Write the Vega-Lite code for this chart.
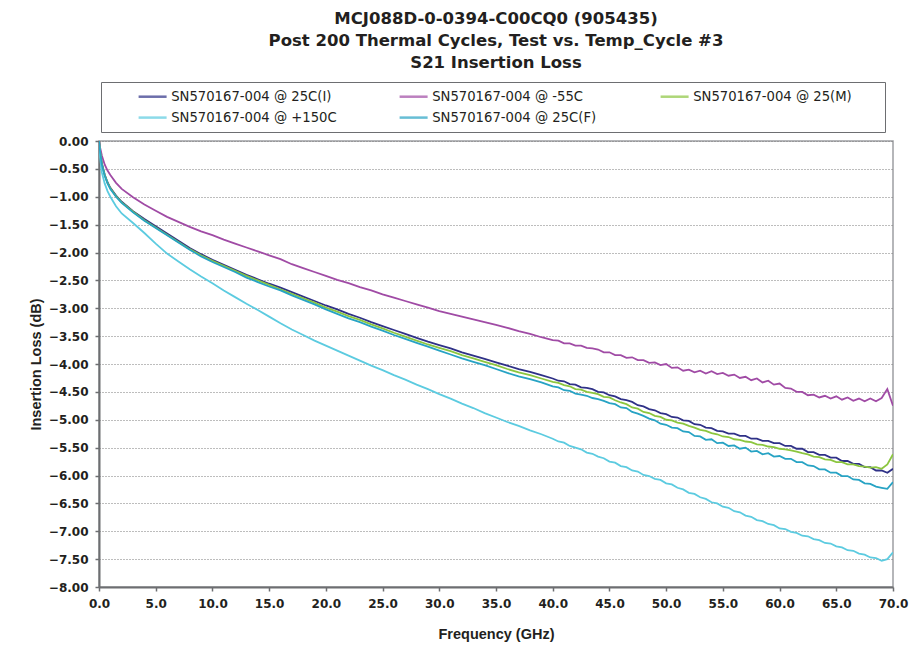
{
"$schema": "https://vega.github.io/schema/vega-lite/v6.json",
"width": 794, "height": 446,
"autosize": {"type": "none"},
"padding": {"left": 99, "top": 141, "right": 19, "bottom": 60},
"background": "white",
"title": {"text": ["MCJ088D-0-0394-C00CQ0 (905435)", "Post 200 Thermal Cycles, Test vs. Temp_Cycle #3", "S21 Insertion Loss"], "font": "DejaVu Sans", "fontSize": 16.5, "fontWeight": "bold", "color": "#231f20", "lineHeight": 22, "anchor": "middle", "offset": 10},
"datasets": {
"names": [
{"k": "a", "name": "SN570167-004 @ 25C(I)"},
{"k": "b", "name": "SN570167-004 @ -55C"},
{"k": "c", "name": "SN570167-004 @ 25(M)"},
{"k": "d", "name": "SN570167-004 @ +150C"},
{"k": "e", "name": "SN570167-004 @ 25C(F)"}
],
"curves": [
{"f":0,"a":0,"b":0,"c":0,"d":0,"e":0},
{"f":0.1,"a":-0.18,"b":-0.12,"c":-0.19,"d":-0.30,"e":-0.19},
{"f":0.25,"a":-0.40,"b":-0.26,"c":-0.41,"d":-0.56,"e":-0.42},
{"f":0.5,"a":-0.60,"b":-0.42,"c":-0.61,"d":-0.76,"e":-0.62},
{"f":0.75,"a":-0.74,"b":-0.53,"c":-0.75,"d":-0.90,"e":-0.76},
{"f":1,"a":-0.84,"b":-0.61,"c":-0.85,"d":-1.00,"e":-0.86},
{"f":1.5,"a":-0.98,"b":-0.75,"c":-0.99,"d":-1.17,"e":-1.00},
{"f":2,"a":-1.09,"b":-0.86,"c":-1.10,"d":-1.30,"e":-1.11},
{"f":3,"a":-1.26,"b":-1.01,"c":-1.27,"d":-1.47,"e":-1.28},
{"f":4,"a":-1.40,"b":-1.14,"c":-1.42,"d":-1.65,"e":-1.43},
{"f":5,"a":-1.53,"b":-1.25,"c":-1.55,"d":-1.84,"e":-1.56},
{"f":6,"a":-1.66,"b":-1.36,"c":-1.68,"d":-2.02,"e":-1.69},
{"f":7,"a":-1.79,"b":-1.45,"c":-1.81,"d":-2.16,"e":-1.82},
{"f":8,"a":-1.92,"b":-1.54,"c":-1.94,"d":-2.30,"e":-1.95},
{"f":9,"a":-2.03,"b":-1.62,"c":-2.05,"d":-2.43,"e":-2.07},
{"f":10,"a":-2.13,"b":-1.69,"c":-2.15,"d":-2.55,"e":-2.17},
{"f":11,"a":-2.22,"b":-1.77,"c":-2.24,"d":-2.68,"e":-2.26},
{"f":12,"a":-2.31,"b":-1.84,"c":-2.33,"d":-2.80,"e":-2.35},
{"f":13,"a":-2.40,"b":-1.91,"c":-2.42,"d":-2.92,"e":-2.45},
{"f":14,"a":-2.48,"b":-1.98,"c":-2.50,"d":-3.03,"e":-2.53},
{"f":15,"a":-2.56,"b":-2.05,"c":-2.58,"d":-3.15,"e":-2.61},
{"f":16,"a":-2.63,"b":-2.12,"c":-2.66,"d":-3.27,"e":-2.68},
{"f":17,"a":-2.71,"b":-2.21,"c":-2.74,"d":-3.38,"e":-2.77},
{"f":18,"a":-2.79,"b":-2.28,"c":-2.82,"d":-3.48,"e":-2.85},
{"f":19,"a":-2.87,"b":-2.35,"c":-2.90,"d":-3.58,"e":-2.93},
{"f":20,"a":-2.95,"b":-2.42,"c":-2.99,"d":-3.67,"e":-3.02},
{"f":21,"a":-3.02,"b":-2.49,"c":-3.06,"d":-3.76,"e":-3.10},
{"f":22,"a":-3.10,"b":-2.55,"c":-3.14,"d":-3.85,"e":-3.18},
{"f":23,"a":-3.17,"b":-2.62,"c":-3.21,"d":-3.94,"e":-3.25},
{"f":24,"a":-3.25,"b":-2.68,"c":-3.29,"d":-4.03,"e":-3.33},
{"f":25,"a":-3.32,"b":-2.75,"c":-3.36,"d":-4.11,"e":-3.40},
{"f":26,"a":-3.39,"b":-2.81,"c":-3.44,"d":-4.20,"e":-3.48},
{"f":27,"a":-3.46,"b":-2.87,"c":-3.51,"d":-4.28,"e":-3.55},
{"f":28,"a":-3.53,"b":-2.93,"c":-3.58,"d":-4.37,"e":-3.62},
{"f":29,"a":-3.60,"b":-2.99,"c":-3.65,"d":-4.45,"e":-3.69},
{"f":30,"a":-3.66,"b":-3.05,"c":-3.71,"d":-4.54,"e":-3.76},
{"f":31,"a":-3.72,"b":-3.10,"c":-3.77,"d":-4.62,"e":-3.83},
{"f":32,"a":-3.79,"b":-3.15,"c":-3.84,"d":-4.71,"e":-3.90},
{"f":33,"a":-3.85,"b":-3.20,"c":-3.90,"d":-4.79,"e":-3.96},
{"f":34,"a":-3.91,"b":-3.25,"c":-3.96,"d":-4.88,"e":-4.02},
{"f":35,"a":-3.97,"b":-3.30,"c":-4.02,"d":-4.96,"e":-4.09},
{"f":36,"a":-4.03,"b":-3.35,"c":-4.09,"d":-5.04,"e":-4.16},
{"f":37,"a":-4.09,"b":-3.41,"c":-4.15,"d":-5.11,"e":-4.22},
{"f":38,"a":-4.14,"b":-3.46,"c":-4.20,"d":-5.19,"e":-4.27},
{"f":39,"a":-4.20,"b":-3.52,"c":-4.26,"d":-5.26,"e":-4.33},
{"f":40,"a":-4.26,"b":-3.57,"c":-4.32,"d":-5.34,"e":-4.40},
{"f":40.5,"a":-4.30,"b":-3.58,"c":-4.34,"d":-5.39,"e":-4.42},
{"f":41,"a":-4.31,"b":-3.63,"c":-4.38,"d":-5.41,"e":-4.47},
{"f":41.5,"a":-4.36,"b":-3.63,"c":-4.40,"d":-5.47,"e":-4.48},
{"f":42,"a":-4.37,"b":-3.67,"c":-4.45,"d":-5.50,"e":-4.53},
{"f":42.5,"a":-4.42,"b":-3.67,"c":-4.46,"d":-5.53,"e":-4.55},
{"f":43,"a":-4.43,"b":-3.71,"c":-4.50,"d":-5.59,"e":-4.57},
{"f":43.5,"a":-4.45,"b":-3.72,"c":-4.52,"d":-5.61,"e":-4.61},
{"f":44,"a":-4.50,"b":-3.74,"c":-4.54,"d":-5.66,"e":-4.63},
{"f":44.5,"a":-4.51,"b":-3.79,"c":-4.59,"d":-5.69,"e":-4.66},
{"f":45,"a":-4.56,"b":-3.79,"c":-4.60,"d":-5.75,"e":-4.70},
{"f":45.5,"a":-4.58,"b":-3.84,"c":-4.65,"d":-5.77,"e":-4.72},
{"f":46,"a":-4.63,"b":-3.84,"c":-4.69,"d":-5.83,"e":-4.78},
{"f":46.5,"a":-4.65,"b":-3.89,"c":-4.72,"d":-5.85,"e":-4.79},
{"f":47,"a":-4.68,"b":-3.88,"c":-4.78,"d":-5.91,"e":-4.86},
{"f":47.5,"a":-4.74,"b":-3.93,"c":-4.80,"d":-5.93,"e":-4.89},
{"f":48,"a":-4.76,"b":-3.93,"c":-4.86,"d":-5.99,"e":-4.93},
{"f":48.5,"a":-4.81,"b":-3.98,"c":-4.88,"d":-6.01,"e":-4.98},
{"f":49,"a":-4.83,"b":-3.97,"c":-4.93,"d":-6.06,"e":-5.01},
{"f":49.5,"a":-4.88,"b":-4.02,"c":-4.95,"d":-6.08,"e":-5.07},
{"f":50,"a":-4.90,"b":-4.00,"c":-5.00,"d":-6.14,"e":-5.09},
{"f":50.5,"a":-4.95,"b":-4.07,"c":-5.01,"d":-6.16,"e":-5.14},
{"f":51,"a":-4.96,"b":-4.06,"c":-5.05,"d":-6.22,"e":-5.15},
{"f":51.5,"a":-5.01,"b":-4.12,"c":-5.07,"d":-6.25,"e":-5.21},
{"f":52,"a":-5.02,"b":-4.10,"c":-5.11,"d":-6.31,"e":-5.22},
{"f":52.5,"a":-5.08,"b":-4.15,"c":-5.14,"d":-6.33,"e":-5.29},
{"f":53,"a":-5.09,"b":-4.12,"c":-5.18,"d":-6.39,"e":-5.30},
{"f":53.5,"a":-5.14,"b":-4.17,"c":-5.20,"d":-6.42,"e":-5.36},
{"f":54,"a":-5.15,"b":-4.13,"c":-5.24,"d":-6.48,"e":-5.35},
{"f":54.5,"a":-5.20,"b":-4.18,"c":-5.26,"d":-6.50,"e":-5.42},
{"f":55,"a":-5.21,"b":-4.16,"c":-5.30,"d":-6.56,"e":-5.41},
{"f":55.5,"a":-5.25,"b":-4.21,"c":-5.31,"d":-6.58,"e":-5.47},
{"f":56,"a":-5.25,"b":-4.19,"c":-5.35,"d":-6.64,"e":-5.46},
{"f":56.5,"a":-5.29,"b":-4.25,"c":-5.36,"d":-6.66,"e":-5.52},
{"f":57,"a":-5.29,"b":-4.23,"c":-5.39,"d":-6.72,"e":-5.50},
{"f":57.5,"a":-5.34,"b":-4.29,"c":-5.40,"d":-6.74,"e":-5.57},
{"f":58,"a":-5.34,"b":-4.26,"c":-5.44,"d":-6.80,"e":-5.56},
{"f":58.5,"a":-5.38,"b":-4.33,"c":-5.45,"d":-6.82,"e":-5.62},
{"f":59,"a":-5.38,"b":-4.30,"c":-5.48,"d":-6.87,"e":-5.60},
{"f":59.5,"a":-5.42,"b":-4.37,"c":-5.49,"d":-6.89,"e":-5.66},
{"f":60,"a":-5.42,"b":-4.35,"c":-5.52,"d":-6.95,"e":-5.65},
{"f":60.5,"a":-5.47,"b":-4.43,"c":-5.53,"d":-6.96,"e":-5.70},
{"f":61,"a":-5.47,"b":-4.44,"c":-5.55,"d":-7.01,"e":-5.70},
{"f":61.5,"a":-5.52,"b":-4.50,"c":-5.57,"d":-7.03,"e":-5.76},
{"f":62,"a":-5.52,"b":-4.50,"c":-5.60,"d":-7.08,"e":-5.76},
{"f":62.5,"a":-5.58,"b":-4.56,"c":-5.62,"d":-7.09,"e":-5.82},
{"f":63,"a":-5.58,"b":-4.55,"c":-5.66,"d":-7.14,"e":-5.83},
{"f":63.5,"a":-5.63,"b":-4.60,"c":-5.67,"d":-7.16,"e":-5.89},
{"f":64,"a":-5.63,"b":-4.57,"c":-5.71,"d":-7.21,"e":-5.89},
{"f":64.5,"a":-5.68,"b":-4.62,"c":-5.72,"d":-7.22,"e":-5.95},
{"f":65,"a":-5.68,"b":-4.58,"c":-5.76,"d":-7.27,"e":-5.95},
{"f":65.5,"a":-5.74,"b":-4.64,"c":-5.76,"d":-7.29,"e":-6.01},
{"f":66,"a":-5.74,"b":-4.60,"c":-5.80,"d":-7.34,"e":-6.01},
{"f":66.5,"a":-5.79,"b":-4.66,"c":-5.80,"d":-7.35,"e":-6.07},
{"f":67,"a":-5.79,"b":-4.62,"c":-5.83,"d":-7.40,"e":-6.08},
{"f":67.5,"a":-5.85,"b":-4.67,"c":-5.84,"d":-7.42,"e":-6.14},
{"f":68,"a":-5.85,"b":-4.62,"c":-5.86,"d":-7.47,"e":-6.15},
{"f":68.5,"a":-5.91,"b":-4.67,"c":-5.85,"d":-7.48,"e":-6.20},
{"f":69,"a":-5.91,"b":-4.61,"c":-5.88,"d":-7.53,"e":-6.22},
{"f":69.5,"a":-5.95,"b":-4.45,"c":-5.80,"d":-7.50,"e":-6.24},
{"f":70,"a":-5.88,"b":-4.75,"c":-5.62,"d":-7.38,"e":-6.12}
]
},
"data": {"name": "curves"},
"transform": [
{"fold": ["a", "b", "c", "d", "e"], "as": ["k", "il"]},
{"lookup": "k", "from": {"data": {"name": "names"}, "key": "k", "fields": ["name"]}}
],
"mark": {"type": "line", "strokeWidth": 1.8, "clip": true},
"encoding": {
"x": {"field": "f", "type": "quantitative", "scale": {"domain": [0, 70], "nice": false, "zero": false},
 "axis": {"values": [0,5,10,15,20,25,30,35,40,45,50,55,60,65,70], "format": ".1f", "title": "Frequency (GHz)", "grid": false, "labelFlush": false, "labelPadding": 7, "titlePadding": 18}},
"y": {"field": "il", "type": "quantitative", "scale": {"domain": [-8, 0], "nice": false, "zero": false},
 "axis": {"values": [0,-0.5,-1,-1.5,-2,-2.5,-3,-3.5,-4,-4.5,-5,-5.5,-6,-6.5,-7,-7.5,-8], "format": ".2f", "title": "Insertion Loss (dB)", "grid": true, "gridColor": "#7a7a7a", "gridDash": [1, 2], "gridWidth": 1, "labelFlush": false, "labelPadding": 7, "titlePadding": 5}},
"color": {"field": "name", "type": "nominal",
 "scale": {"domain": ["SN570167-004 @ 25C(I)", "SN570167-004 @ -55C", "SN570167-004 @ 25(M)", "SN570167-004 @ +150C", "SN570167-004 @ 25C(F)"],
  "range": ["#2f3187", "#a04ba5", "#8cc63f", "#5ccbe0", "#27a3c4"]},
 "legend": {"orient": "none", "legendX": 2, "legendY": -59, "direction": "horizontal", "columns": 3, "title": null,
  "symbolType": "M4.6,0H10.2M46.8,0", "symbolSize": 100, "symbolStrokeWidth": 2.5, "symbolOpacity": 0.7,
  "labelFont": "DejaVu Sans", "labelFontSize": 13.2, "labelColor": "#231f20", "labelOffset": 49, "labelLimit": 400,
  "columnPadding": 15, "rowPadding": 7, "padding": 8, "strokeColor": "#6d6e71", "gridAlign": "all"}}
},
"config": {
"font": "DejaVu Sans",
"view": {"stroke": "#9d9fa2", "strokeWidth": 1.5},
"axis": {"labelFont": "DejaVu Sans", "labelFontWeight": "bold", "labelFontSize": 12, "labelColor": "#231f20",
 "titleFont": "Liberation Sans", "titleFontWeight": "bold", "titleFontSize": 14.5, "titleColor": "#231f20",
 "domainColor": "#6d6e71", "domainWidth": 2, "tickColor": "#6d6e71", "tickSize": 4, "tickWidth": 1.5}
}
}
